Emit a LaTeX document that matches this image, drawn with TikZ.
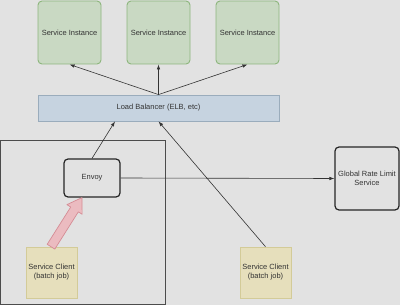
\documentclass[tikz,border=0pt]{standalone}
\usepackage{fontspec}
\setmainfont{Liberation Sans}
\usetikzlibrary{arrows.meta,calc}
\definecolor{bg}{HTML}{E2E2E2}
\definecolor{instfill}{HTML}{C9D9C3}
\definecolor{instline}{HTML}{8DB67D}
\definecolor{lbfill}{HTML}{C6D3E0}
\definecolor{lbline}{HTML}{9AACBC}
\definecolor{clifill}{HTML}{E6DFBC}
\definecolor{cliline}{HTML}{D3CB98}
\definecolor{pinkfill}{HTML}{EBBBC0}
\definecolor{pinkline}{HTML}{D58C95}
\definecolor{ink}{HTML}{333333}
\begin{document}
\begin{tikzpicture}[x=1pt,y=-1pt,
  lbl/.style={font=\fontsize{7.5}{9}\selectfont, text=ink, align=center},
  instbox/.style={lbl, draw=instline, fill=instfill, line width=0.9pt, rounded corners=4pt,
    minimum width=63pt, minimum height=63pt, inner sep=0pt},
  lbbox/.style={lbl, draw=lbline, fill=lbfill, line width=0.8pt,
    minimum width=241pt, minimum height=26pt, inner sep=0pt},
  clibox/.style={lbl, draw=cliline, fill=clifill, line width=0.6pt,
    minimum width=51pt, minimum height=51pt, inner sep=0pt},
  proxbox/.style={lbl, draw=black!85, line width=1.2pt, rounded corners=4pt, inner sep=0pt},
  conn/.style={draw=ink, line width=0.6pt, -{Latex[length=5pt,width=3.5pt]}},
  framebox/.style={draw=black!70, line width=0.9pt}]
  % canvas
  \fill[bg] (0,0) rectangle (400,305);
  \useasboundingbox (0,0) rectangle (400,305);
  % local host frame
  \draw[framebox] (0,140) rectangle (165,304);
  % upstream instances and balancer
  \node[instbox] (si1) at (69.5,32.5) {Service Instance};
  \node[instbox] (si2) at (158.5,32.5) {Service Instance};
  \node[instbox] (si3) at (247.5,32.5) {Service Instance};
  \node[lbbox] (lb) at (158.5,108) {Load Balancer (ELB, etc)};
  % proxy and rate limit service
  \node[proxbox, minimum width=56pt, minimum height=38pt] (envoy) at (92,178) {Envoy};
  \node[proxbox, minimum width=64pt, minimum height=63pt] (rl) at (367,178.5) {Global Rate Limit\\Service};
  % clients
  \node[clibox] (c1) at (51.5,272.5) {Service Client\\(batch job)};
  \node[clibox] (c2) at (265.5,272.5) {Service Client\\(batch job)};
  % connectors
  \draw[conn] (lb.north) -- (si1.south);
  \draw[conn] (lb.north) -- (si2.south);
  \draw[conn] (lb.north) -- (si3.south);
  \coordinate (lbin) at ($(lb.south)+(-43.5,0)$);
  \draw[conn] (envoy.north) -- (lbin);
  \draw[conn] (c2.north) -- (lb.south);
  \draw[conn] (envoy.east) -- (rl.west);
  % block arrow from the local client into the proxy
  \coordinate (pS) at ($(c1.north)+(-0.5,0)$);
  \coordinate (pT) at ($(envoy.south)+(-10,0)$);
  \coordinate (pH) at ($(pT)!14pt!(pS)$);
  \filldraw[fill=pinkfill, draw=pinkline, line width=0.7pt, line join=round]
    ($(pS)!4.5pt!90:(pT)$) -- ($(pH)!4.5pt!-90:(pS)$) -- ($(pH)!9pt!-90:(pS)$) --
    (pT) -- ($(pH)!9pt!90:(pS)$) -- ($(pH)!4.5pt!90:(pS)$) --
    ($(pS)!4.5pt!-90:(pT)$) -- cycle;
\end{tikzpicture}
\end{document}
